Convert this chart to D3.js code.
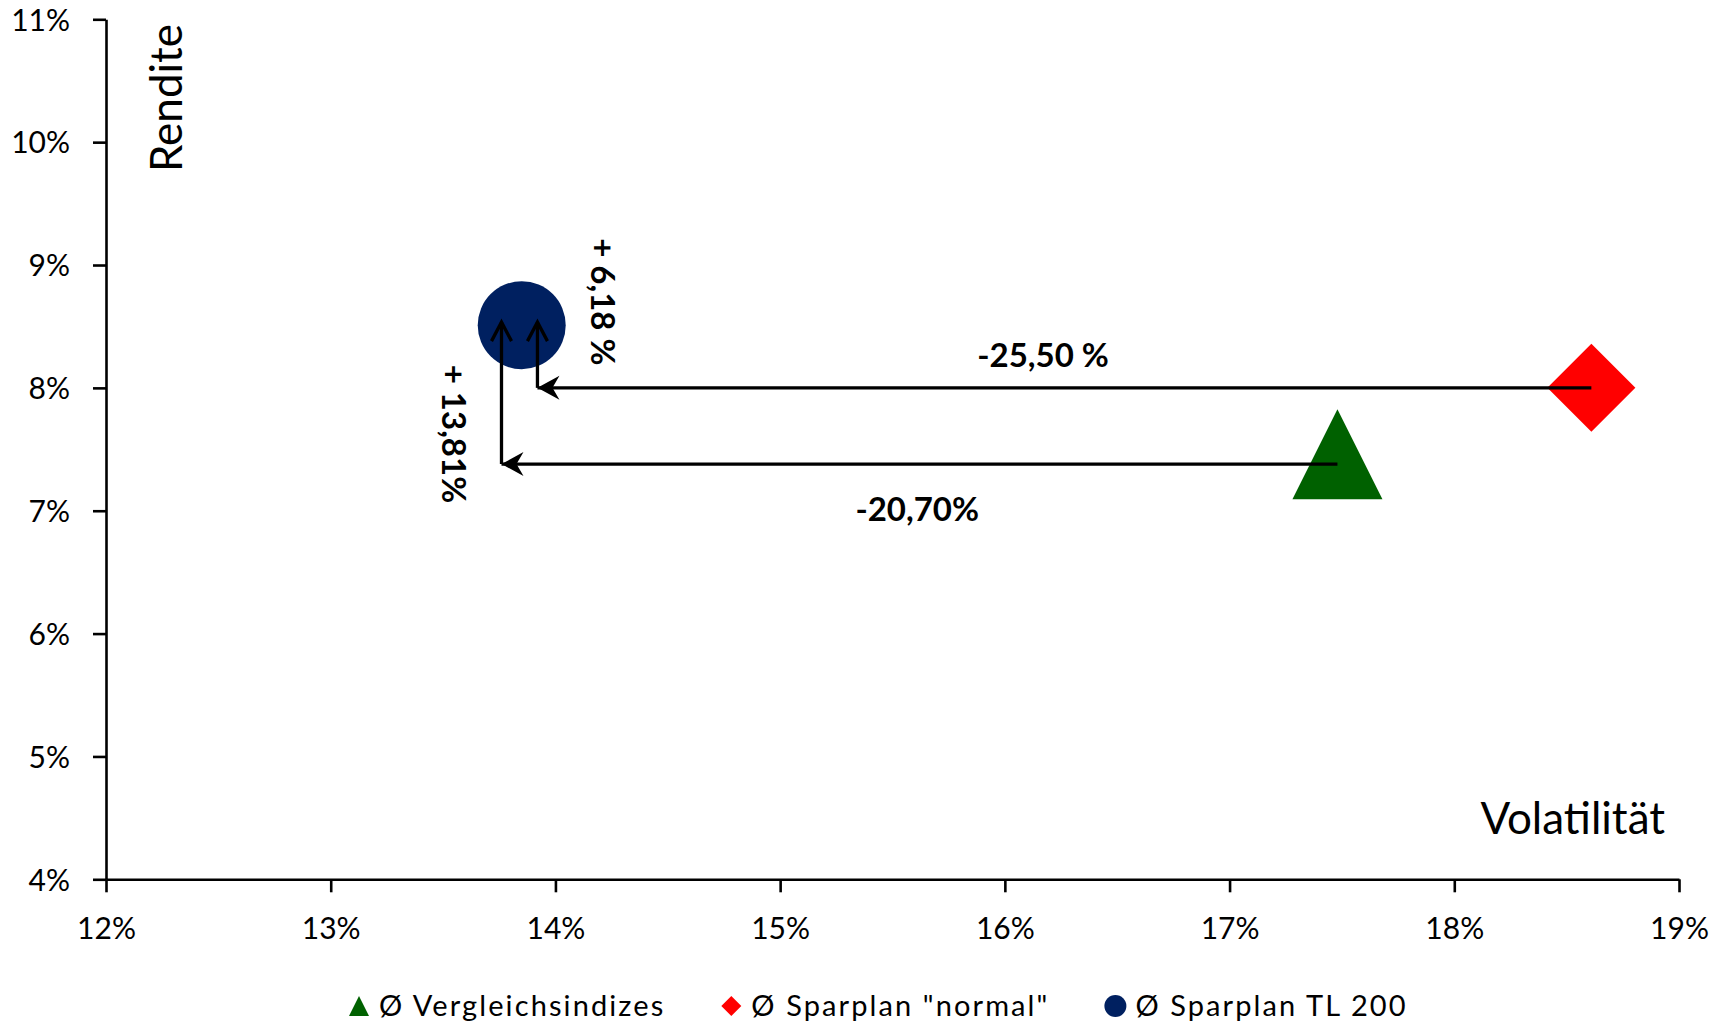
<!DOCTYPE html>
<html>
<head>
<meta charset="utf-8">
<script src="https://cdn.jsdelivr.net/npm/d3@7"></script>
<style>
  body { margin: 0; background: #fff; }
  svg { display: block; font-family: Lato, 'Open Sans', sans-serif; }
</style>
</head>
<body>
<div class="chart"></div>
<script>
// data (Volatilität / Rendite in %)
var serien = ['Ø Vergleichsindizes', 'Ø Sparplan "normal"', 'Ø Sparplan TL 200'];
var volatilitaet = [17.48, 18.61, 13.85];
var rendite = [7.46, 8.00, 8.51];
var farben = ['#006100', '#ff0000', '#002060'];
var formen = ['triangle', 'diamond', 'circle'];

var xTicks = [12, 13, 14, 15, 16, 17, 18, 19];
var yTicks = [4, 5, 6, 7, 8, 9, 10, 11];

// arrows: [from x, from y, to x, to y, head]
var pfeile = [
  [18.61, 8.00, 13.92, 8.00, 'stealth'],
  [13.92, 8.00, 13.92, 8.535, 'open'],
  [17.48, 7.38, 13.76, 7.38, 'stealth'],
  [13.76, 7.38, 13.76, 8.535, 'open']
];
// annotation labels: [text, x, y, rotation]
var beschriftungen = [
  ['-25,50 %', 16.17, 8.17, 0],
  ['-20,70%', 15.61, 6.92, 0],
  ['+ 6,18 %', 14.16, 8.70, 90],
  ['+ 13,81%', 13.495, 7.625, 90]
];

////////////////////// SVG //////////////////////
var width = 1726, height = 1022;
var margin = { top: 19.3, right: 47, bottom: 142.7, left: 106 };

var svg = d3.select('.chart')
  .append('svg')
  .attr('width', width)
  .attr('height', height);

var xScale = d3.scaleLinear()
  .domain([12, 19])
  .range([margin.left, width - margin.right]);

var yScale = d3.scaleLinear()
  .domain([4, 11])
  .range([height - margin.bottom, margin.top]);

// x axis
var xAxis = svg.append('g')
  .attr('transform', 'translate(0,' + yScale(4) + ')')
  .call(d3.axisBottom(xScale).tickValues(xTicks).tickSize(13).tickSizeOuter(0).tickFormat(d => d + '%'));

xAxis.attr('font-family', null).attr('font-size', null);
xAxis.selectAll('text')
  .attr('y', 60)
  .attr('dy', null)
  .style('font-size', '30px')
  .style('fill', '#000');

// y axis
var yAxis = svg.append('g')
  .attr('transform', 'translate(' + xScale(12) + ',0)')
  .call(d3.axisLeft(yScale).tickValues(yTicks).tickSize(13).tickSizeOuter(0).tickFormat(d => d + '%'));

yAxis.attr('font-family', null).attr('font-size', null);
yAxis.selectAll('text')
  .attr('x', -36)
  .attr('dy', '0.36em')
  .style('font-size', '30px')
  .style('fill', '#000');

svg.selectAll('.domain, .tick line')
  .style('stroke', '#000')
  .style('stroke-width', 2.6);

// axis titles
svg.append('text')
  .attr('transform', 'translate(182,24) rotate(-90)')
  .style('text-anchor', 'end')
  .style('font-size', '44px')
  .text('Rendite');

svg.append('text')
  .attr('x', 1665)
  .attr('y', 834)
  .style('text-anchor', 'end')
  .style('font-size', '44px')
  .text('Volatilität');

////////////////////// MARKER //////////////////////
function formPfad(form, s) {
  // s = half size
  if (form === 'triangle') return 'M0,' + (-s) + 'L' + s + ',' + s + 'L' + (-s) + ',' + s + 'Z';
  if (form === 'diamond') return 'M0,' + (-s) + 'L' + s + ',0L0,' + s + 'L' + (-s) + ',0Z';
  return 'M' + (-s) + ',0A' + s + ',' + s + ' 0 1,1 ' + s + ',0A' + s + ',' + s + ' 0 1,1 ' + (-s) + ',0Z';
}

var punkte = serien.map((s, i) => ({ name: s, x: volatilitaet[i], y: rendite[i], farbe: farben[i], form: formen[i] }));

////////////////////// ARROWS //////////////////////
var defs = svg.append('defs');
defs.append('marker')
  .attr('id', 'stealth')
  .attr('markerUnits', 'userSpaceOnUse')
  .attr('viewBox', '-24 -14 26 28')
  .attr('refX', 0).attr('refY', 0)
  .attr('markerWidth', 26).attr('markerHeight', 28)
  .attr('orient', 'auto')
  .append('path')
  .attr('d', 'M0,0L-22,-12L-15,0L-22,12Z')
  .style('fill', '#000');

defs.append('marker')
  .attr('id', 'open')
  .attr('markerUnits', 'userSpaceOnUse')
  .attr('viewBox', '-24 -14 28 28')
  .attr('refX', 0).attr('refY', 0)
  .attr('markerWidth', 28).attr('markerHeight', 28)
  .attr('orient', 'auto')
  .append('path')
  .attr('d', 'M-19,-10L0,0L-19,10')
  .style('fill', 'none')
  .style('stroke', '#000')
  .style('stroke-width', 3.3);

// markers first (arrows are drawn on top)
svg.selectAll('.punkt')
  .data(punkte)
  .enter()
  .append('path')
  .attr('class', 'punkt')
  .attr('transform', d => 'translate(' + xScale(d.x) + ',' + yScale(d.y) + ')')
  .attr('d', d => formPfad(d.form, d.form === 'triangle' ? 45 : 44))
  .style('fill', d => d.farbe);

svg.selectAll('.pfeil')
  .data(pfeile)
  .enter()
  .append('line')
  .attr('class', 'pfeil')
  .attr('x1', d => xScale(d[0]))
  .attr('y1', d => yScale(d[1]))
  .attr('x2', d => xScale(d[2]))
  .attr('y2', d => yScale(d[3]))
  .attr('marker-end', d => 'url(#' + d[4] + ')')
  .style('stroke', '#000')
  .style('stroke-width', 3.3);

svg.selectAll('.beschriftung')
  .data(beschriftungen)
  .enter()
  .append('text')
  .attr('class', 'beschriftung')
  .attr('transform', d => 'translate(' + xScale(d[1]) + ',' + yScale(d[2]) + ') rotate(' + d[3] + ')')
  .style('text-anchor', 'middle')
  .style('font-size', '33px')
  .style('font-weight', 'bold')
  .text(d => d[0]);

////////////////////// LEGEND //////////////////////
var legX = 349;
var legY = 1006;
punkte.forEach(p => {
  svg.append('path')
    .attr('transform', 'translate(' + (legX + 10) + ',' + legY + ')')
    .attr('d', formPfad(p.form, p.form === 'circle' ? 11 : 10))
    .style('fill', p.farbe);
  var t = svg.append('text')
    .attr('x', legX + 30)
    .attr('y', legY + 10)
    .style('font-size', '29px')
    .style('letter-spacing', '2.1px')
    .text(p.name);
  legX = legX + 30 + t.node().getComputedTextLength() + 56;
});
</script>
</body>
</html>
